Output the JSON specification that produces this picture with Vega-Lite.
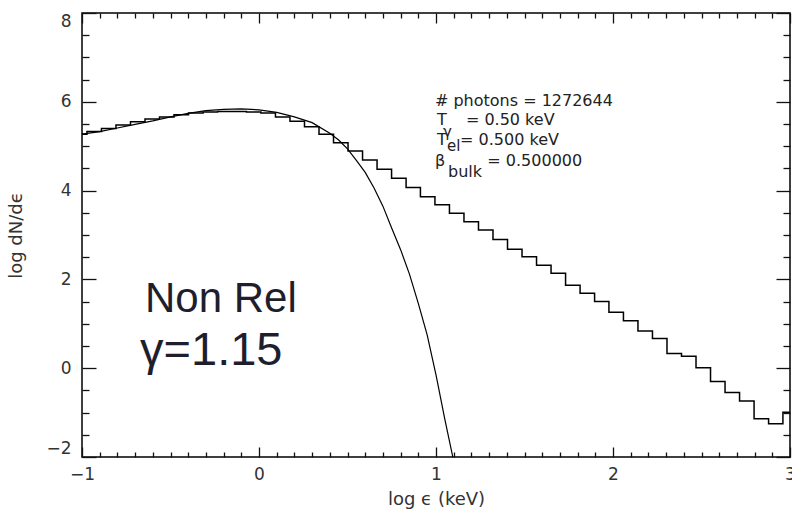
{
  "$schema": "https://vega.github.io/schema/vega-lite/v6.json",
  "width": 708,
  "height": 444,
  "autosize": {"type": "none"},
  "padding": {"left": 82, "top": 13, "right": 2, "bottom": 53},
  "background": "white",
  "config": {
    "view": {"stroke": "#000", "strokeWidth": 1.5},
    "axis": {
      "domain": false, "grid": false,
      "tickColor": "#111", "tickWidth": 1.3,
      "labelFont": "DejaVu Sans", "labelFontSize": 17, "labelColor": "#333",
      "titleFont": "DejaVu Sans", "titleFontSize": 18, "titleFontWeight": "normal", "titleColor": "#333"
    }
  },
  "datasets": {
    "hist": [
      {"x": -1.0, "y": 5.27}, {"x": -0.972, "y": 5.33}, {"x": -0.890, "y": 5.40}, {"x": -0.808, "y": 5.48},
      {"x": -0.726, "y": 5.55}, {"x": -0.644, "y": 5.61}, {"x": -0.562, "y": 5.66}, {"x": -0.480, "y": 5.71},
      {"x": -0.398, "y": 5.75}, {"x": -0.316, "y": 5.77}, {"x": -0.234, "y": 5.78}, {"x": -0.153, "y": 5.78},
      {"x": -0.071, "y": 5.77}, {"x": 0.011, "y": 5.75}, {"x": 0.093, "y": 5.66}, {"x": 0.175, "y": 5.56},
      {"x": 0.257, "y": 5.44}, {"x": 0.339, "y": 5.27}, {"x": 0.421, "y": 5.08}, {"x": 0.503, "y": 4.89},
      {"x": 0.585, "y": 4.69}, {"x": 0.667, "y": 4.48}, {"x": 0.749, "y": 4.28}, {"x": 0.831, "y": 4.07},
      {"x": 0.912, "y": 3.86}, {"x": 0.994, "y": 3.68}, {"x": 1.076, "y": 3.49}, {"x": 1.158, "y": 3.30},
      {"x": 1.240, "y": 3.11}, {"x": 1.322, "y": 2.90}, {"x": 1.404, "y": 2.68}, {"x": 1.486, "y": 2.51},
      {"x": 1.568, "y": 2.32}, {"x": 1.650, "y": 2.14}, {"x": 1.732, "y": 1.87}, {"x": 1.814, "y": 1.69},
      {"x": 1.896, "y": 1.50}, {"x": 1.977, "y": 1.26}, {"x": 2.059, "y": 1.07}, {"x": 2.141, "y": 0.84},
      {"x": 2.223, "y": 0.67}, {"x": 2.305, "y": 0.33}, {"x": 2.387, "y": 0.27}, {"x": 2.469, "y": 0.01},
      {"x": 2.551, "y": -0.30}, {"x": 2.633, "y": -0.55}, {"x": 2.715, "y": -0.74}, {"x": 2.797, "y": -1.14},
      {"x": 2.879, "y": -1.25}, {"x": 2.960, "y": -0.99}, {"x": 3.0, "y": -0.99}
    ],
    "curve": [
      {"x": -1.0, "y": 5.27}, {"x": -0.9, "y": 5.33}, {"x": -0.8, "y": 5.41}, {"x": -0.7, "y": 5.49},
      {"x": -0.6, "y": 5.57}, {"x": -0.5, "y": 5.66}, {"x": -0.4, "y": 5.74}, {"x": -0.3, "y": 5.80},
      {"x": -0.2, "y": 5.83}, {"x": -0.1, "y": 5.84}, {"x": 0.0, "y": 5.82}, {"x": 0.1, "y": 5.76},
      {"x": 0.2, "y": 5.66}, {"x": 0.3, "y": 5.53}, {"x": 0.4, "y": 5.29}, {"x": 0.45, "y": 5.14},
      {"x": 0.5, "y": 4.94}, {"x": 0.55, "y": 4.68}, {"x": 0.6, "y": 4.41}, {"x": 0.65, "y": 4.06},
      {"x": 0.7, "y": 3.65}, {"x": 0.75, "y": 3.15}, {"x": 0.8, "y": 2.67}, {"x": 0.85, "y": 2.12},
      {"x": 0.9, "y": 1.46}, {"x": 0.95, "y": 0.75}, {"x": 1.0, "y": -0.15}, {"x": 1.05, "y": -1.15},
      {"x": 1.095, "y": -2.0}
    ],
    "notes": [
      {"x": 0.994, "y": 5.905, "t": "# photons = 1272644"},
      {"x": 1.006, "y": 5.477, "t": "T"},
      {"x": 1.169, "y": 5.477, "t": "= 0.50 keV"},
      {"x": 1.006, "y": 5.027, "t": "T"},
      {"x": 1.136, "y": 5.027, "t": "= 0.500 keV"},
      {"x": 0.994, "y": 4.554, "t": "β"},
      {"x": 1.290, "y": 4.554, "t": "= 0.500000"},
      {"x": 1.068, "y": 4.300, "t": "bulk"}
    ],
    "subs": [
      {"x": 1.040, "y": 5.200, "t": "γ"},
      {"x": 1.062, "y": 4.900, "t": "el"}
    ],
    "big1": [
      {"x": -0.644, "y": 1.266, "t": "Non Rel"}
    ],
    "big2": [
      {"x": -0.672, "y": 0.072, "t": "γ=1.15"}
    ]
  },
  "resolve": {"axis": {"x": "independent", "y": "independent"}},
  "layer": [
    {
      "data": {"name": "hist"},
      "mark": {"type": "line", "interpolate": "step-after", "color": "#000", "strokeWidth": 1.5, "clip": true},
      "encoding": {
        "x": {"field": "x", "type": "quantitative",
          "scale": {"domain": [-1, 3], "nice": false, "zero": false},
          "axis": {"orient": "bottom", "title": "log ϵ (keV)", "titlePadding": 3,
            "values": [-1,-0.9,-0.8,-0.7,-0.6,-0.5,-0.4,-0.3,-0.2,-0.1,0,0.1,0.2,0.3,0.4,0.5,0.6,0.7,0.8,0.9,1,1.1,1.2,1.3,1.4,1.5,1.6,1.7,1.8,1.9,2,2.1,2.2,2.3,2.4,2.5,2.6,2.7,2.8,2.9,3],
            "tickSize": {"condition": {"test": "abs(datum.value - round(datum.value)) < 0.001", "value": -10}, "value": -5},
            "labelExpr": "abs(datum.value - round(datum.value)) < 0.001 ? format(datum.value, 'd') : ''",
            "labelPadding": 19, "labelFlush": false, "labelOverlap": false}},
        "y": {"field": "y", "type": "quantitative",
          "scale": {"domain": [-2, 8], "nice": false, "zero": false},
          "axis": {"orient": "left", "title": "log dN/dϵ", "titlePadding": 20,
            "values": [-2,-1.5,-1,-0.5,0,0.5,1,1.5,2,2.5,3,3.5,4,4.5,5,5.5,6,6.5,7,7.5,8],
            "tickSize": {"condition": {"test": "abs(datum.value/2 - round(datum.value/2)) < 0.001", "value": -14}, "value": -7},
            "labelExpr": "abs(datum.value/2 - round(datum.value/2)) < 0.001 ? format(datum.value, 'd') : ''",
            "labelPadding": 25, "labelFlush": true, "labelOverlap": false}}
      }
    },
    {
      "data": {"name": "curve"},
      "mark": {"type": "line", "color": "#000", "strokeWidth": 1.2, "clip": true},
      "encoding": {
        "x": {"field": "x", "type": "quantitative",
          "scale": {"domain": [-1, 3], "nice": false, "zero": false},
          "axis": {"orient": "top", "title": null, "labels": false,
            "values": [-1,-0.9,-0.8,-0.7,-0.6,-0.5,-0.4,-0.3,-0.2,-0.1,0,0.1,0.2,0.3,0.4,0.5,0.6,0.7,0.8,0.9,1,1.1,1.2,1.3,1.4,1.5,1.6,1.7,1.8,1.9,2,2.1,2.2,2.3,2.4,2.5,2.6,2.7,2.8,2.9,3],
            "tickSize": {"condition": {"test": "abs(datum.value - round(datum.value)) < 0.001", "value": -10}, "value": -5}}},
        "y": {"field": "y", "type": "quantitative",
          "scale": {"domain": [-2, 8], "nice": false, "zero": false},
          "axis": {"orient": "right", "title": null, "labels": false,
            "values": [-2,-1.5,-1,-0.5,0,0.5,1,1.5,2,2.5,3,3.5,4,4.5,5,5.5,6,6.5,7,7.5,8],
            "tickSize": {"condition": {"test": "abs(datum.value/2 - round(datum.value/2)) < 0.001", "value": -14}, "value": -7}}}
      }
    },
    {
      "data": {"name": "notes"},
      "mark": {"type": "text", "align": "left", "baseline": "alphabetic", "font": "DejaVu Sans", "fontSize": 16, "color": "#222"},
      "encoding": {
        "x": {"field": "x", "type": "quantitative", "axis": null},
        "y": {"field": "y", "type": "quantitative", "axis": null},
        "text": {"field": "t"}
      }
    },
    {
      "data": {"name": "subs"},
      "mark": {"type": "text", "align": "left", "baseline": "alphabetic", "font": "DejaVu Sans", "fontSize": 15, "color": "#222"},
      "encoding": {
        "x": {"field": "x", "type": "quantitative", "axis": null},
        "y": {"field": "y", "type": "quantitative", "axis": null},
        "text": {"field": "t"}
      }
    },
    {
      "data": {"name": "big1"},
      "mark": {"type": "text", "align": "left", "baseline": "alphabetic", "font": "Liberation Sans", "fontSize": 42, "color": "#1e1e2c"},
      "encoding": {
        "x": {"field": "x", "type": "quantitative", "axis": null},
        "y": {"field": "y", "type": "quantitative", "axis": null},
        "text": {"field": "t"}
      }
    },
    {
      "data": {"name": "big2"},
      "mark": {"type": "text", "align": "left", "baseline": "alphabetic", "font": "Liberation Sans", "fontSize": 47, "color": "#1e1e2c"},
      "encoding": {
        "x": {"field": "x", "type": "quantitative", "axis": null},
        "y": {"field": "y", "type": "quantitative", "axis": null},
        "text": {"field": "t"}
      }
    }
  ]
}
